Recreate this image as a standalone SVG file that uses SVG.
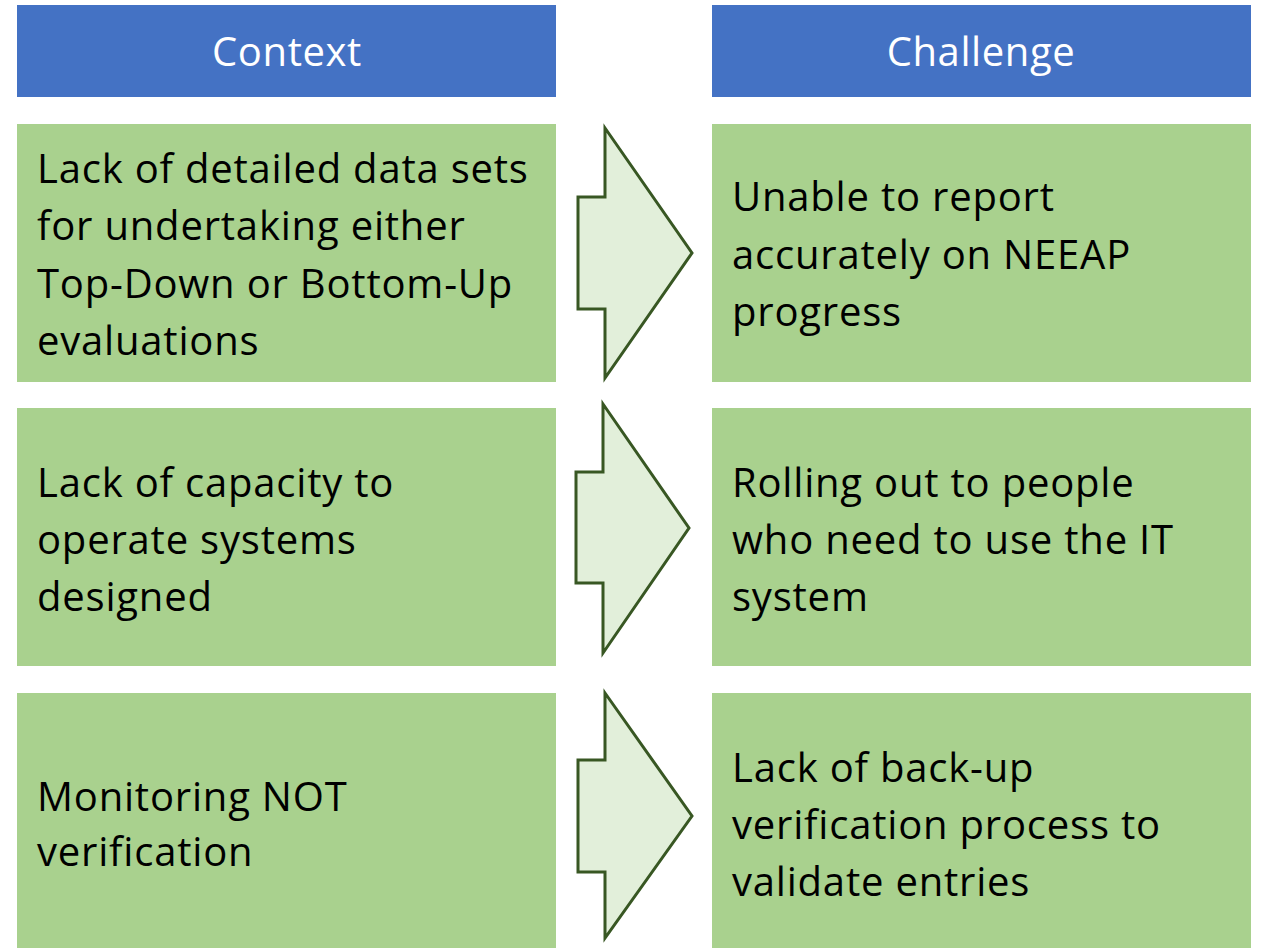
<svg xmlns="http://www.w3.org/2000/svg" width="1261" height="948" viewBox="0 0 1261 948">
  <style>
    .hdr { fill: #4472C4; }
    .box { fill: #A9D18E; }
    .hdr-t { font-family: "Open Sans", "Noto Sans", sans-serif; font-size: 40px; letter-spacing: 0.6px; fill: #FFFFFF; text-anchor: middle; }
    .t { font-family: "Open Sans", "Noto Sans", sans-serif; font-size: 40px; letter-spacing: 0.8px; fill: #000000; }
    .arrow { fill: #E2EFDA; stroke: #385723; stroke-width: 3; stroke-linejoin: miter; }
  </style>
  <rect width="1261" height="948" fill="#FFFFFF"/>

  <g id="header-context">
    <rect class="hdr" x="17" y="5" width="539" height="92"/>
    <text class="hdr-t" x="287" y="66">Context</text>
  </g>
  <g id="header-challenge">
    <rect class="hdr" x="712" y="5" width="539" height="92"/>
    <text class="hdr-t" x="981" y="66">Challenge</text>
  </g>

  <g id="context-1">
    <rect class="box" x="17" y="124" width="539" height="258"/>
    <text class="t" x="37" y="183">Lack of detailed data sets</text>
    <text class="t" x="37" y="240">for undertaking either</text>
    <text class="t" x="37" y="298">Top-Down or Bottom-Up</text>
    <text class="t" x="37" y="355">evaluations</text>
  </g>
  <g id="challenge-1">
    <rect class="box" x="712" y="124" width="539" height="258"/>
    <text class="t" x="732" y="211">Unable to report</text>
    <text class="t" x="732" y="269">accurately on NEEAP</text>
    <text class="t" x="732" y="326">progress</text>
  </g>

  <g id="context-2">
    <rect class="box" x="17" y="408" width="539" height="258"/>
    <text class="t" x="37" y="497">Lack of capacity to</text>
    <text class="t" x="37" y="554">operate systems</text>
    <text class="t" x="37" y="611">designed</text>
  </g>
  <g id="challenge-2">
    <rect class="box" x="712" y="408" width="539" height="258"/>
    <text class="t" x="732" y="497">Rolling out to people</text>
    <text class="t" x="732" y="554">who need to use the IT</text>
    <text class="t" x="732" y="611">system</text>
  </g>

  <g id="context-3">
    <rect class="box" x="17" y="693" width="539" height="255"/>
    <text class="t" x="37" y="811">Monitoring NOT</text>
    <text class="t" x="37" y="866">verification</text>
  </g>
  <g id="challenge-3">
    <rect class="box" x="712" y="693" width="539" height="255"/>
    <text class="t" x="732" y="782">Lack of back-up</text>
    <text class="t" x="732" y="839">verification process to</text>
    <text class="t" x="732" y="896">validate entries</text>
  </g>

  <g id="connectors">
    <polygon class="arrow" points="605,128 692,253 605,378 605,309 578,309 578,197 605,197"/>
    <polygon class="arrow" points="603,404 689,528 603,653 603,583 576,583 576,472 603,472"/>
    <polygon class="arrow" points="605,693 692,816 605,938 605,872 578,872 578,760 605,760"/>
  </g>
</svg>
